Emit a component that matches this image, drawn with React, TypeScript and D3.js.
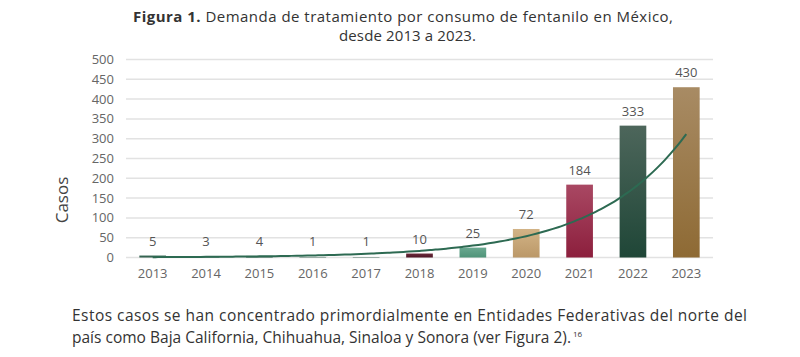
import React from "react";
import * as d3 from "d3";

const years = ["2013","2014","2015","2016","2017","2018","2019","2020","2021","2022","2023"];
const cases = [5, 3, 4, 1, 1, 10, 25, 72, 184, 333, 430];
const barTop = ["#3f6e5c","#3f6e5c","#3f6e5c","#3f6e5c","#3f6e5c","#6a2a3b","#6aa890","#d2b386","#a94863","#4d665b","#a88b64"];
const barBottom = ["#2c5a48","#2c5a48","#2c5a48","#2c5a48","#2c5a48","#4f1626","#4f9479","#bb9868","#8c1f3d","#1f4637","#8e6a34"];
const yTicks = [0, 50, 100, 150, 200, 250, 300, 350, 400, 450, 500];

const FONT = "'Open Sans', 'DejaVu Sans', sans-serif";

export default function App() {
  const W = 800, H = 357;
  const x = d3.scaleBand<string>().domain(years).range([126, 713]).paddingInner(0.5).paddingOuter(0.25);
  const y = d3.scaleLinear().domain([0, 500]).range([257.5, 59.5]);

  // exponential trendline (least squares on log values)
  const xs = cases.map((_, i) => i + 1);
  const ls = cases.map((v) => Math.log(v));
  const mx = d3.mean(xs)!, ml = d3.mean(ls)!;
  const b = d3.sum(xs.map((xi, i) => (xi - mx) * (ls[i] - ml))) / d3.sum(xs.map((xi) => (xi - mx) ** 2));
  const a = ml - b * mx;
  const trendPts: [number, number][] = d3.range(1, 11.001, 0.1).map((t) => {
    const px = x(years[0])! + x.bandwidth() / 2 + (t - 1) * x.step();
    return [px, y(Math.exp(a + b * t))];
  });
  const line = d3.line().curve(d3.curveMonotoneX)(trendPts)!;

  return (
    <svg width={W} height={H} style={{ display: "block", position: "absolute", left: 0, top: 0, background: "#fff" }} fontFamily={FONT}>
      <defs>
        {years.map((yr, i) => (
          <linearGradient key={yr} id={`g${i}`} x1="0" y1="0" x2="0" y2="1">
            <stop offset="0%" stopColor={barTop[i]} />
            <stop offset="100%" stopColor={barBottom[i]} />
          </linearGradient>
        ))}
      </defs>
      <text x={133} y={22} fontSize={15} fill="#333" textLength={540} lengthAdjust="spacing">
        <tspan fontWeight="bold">Figura 1.</tspan> Demanda de tratamiento por consumo de fentanilo en México,
      </text>
      <text x={339} y={41} fontSize={15} fill="#333" textLength={137} lengthAdjust="spacing">desde 2013 a 2023.</text>

      {yTicks.map((t) => (
        <g key={t}>
          <line x1={126} x2={713} y1={y(t)} y2={y(t)} stroke="#e2e2e2" strokeWidth={1.5} />
          <text x={114} y={y(t) + 4.5} textAnchor="end" fontSize={13} fill="#666">{t}</text>
        </g>
      ))}
      <text transform="translate(68,200) rotate(-90)" textAnchor="middle" fontSize={17} fill="#444">Casos</text>

      {years.map((yr, i) => (
        <g key={yr}>
          <rect x={x(yr)} y={y(cases[i])} width={x.bandwidth()} height={y(0) - y(cases[i])} fill={`url(#g${i})`} />
          <text x={x(yr)! + x.bandwidth() / 2} y={Math.min(y(cases[i]) - 10, 246)} textAnchor="middle" fontSize={13} fill="#555">{cases[i]}</text>
          <text x={x(yr)! + x.bandwidth() / 2} y={278} textAnchor="middle" fontSize={13} fill="#666">{yr}</text>
        </g>
      ))}
      <path d={line} fill="none" stroke="#2d6a52" strokeWidth={2} />

      <text x={72} y={321} fontSize={15.5} fill="#333" textLength={675} lengthAdjust="spacing">Estos casos se han concentrado primordialmente en Entidades Federativas del norte del</text>
      <text x={72} y={343} fontSize={15.5} fill="#333" textLength={499} lengthAdjust="spacing">país como Baja California, Chihuahua, Sinaloa y Sonora (ver Figura 2).</text>
      <text x={573} y={337} fontSize={8} fill="#333">16</text>
    </svg>
  );
}
